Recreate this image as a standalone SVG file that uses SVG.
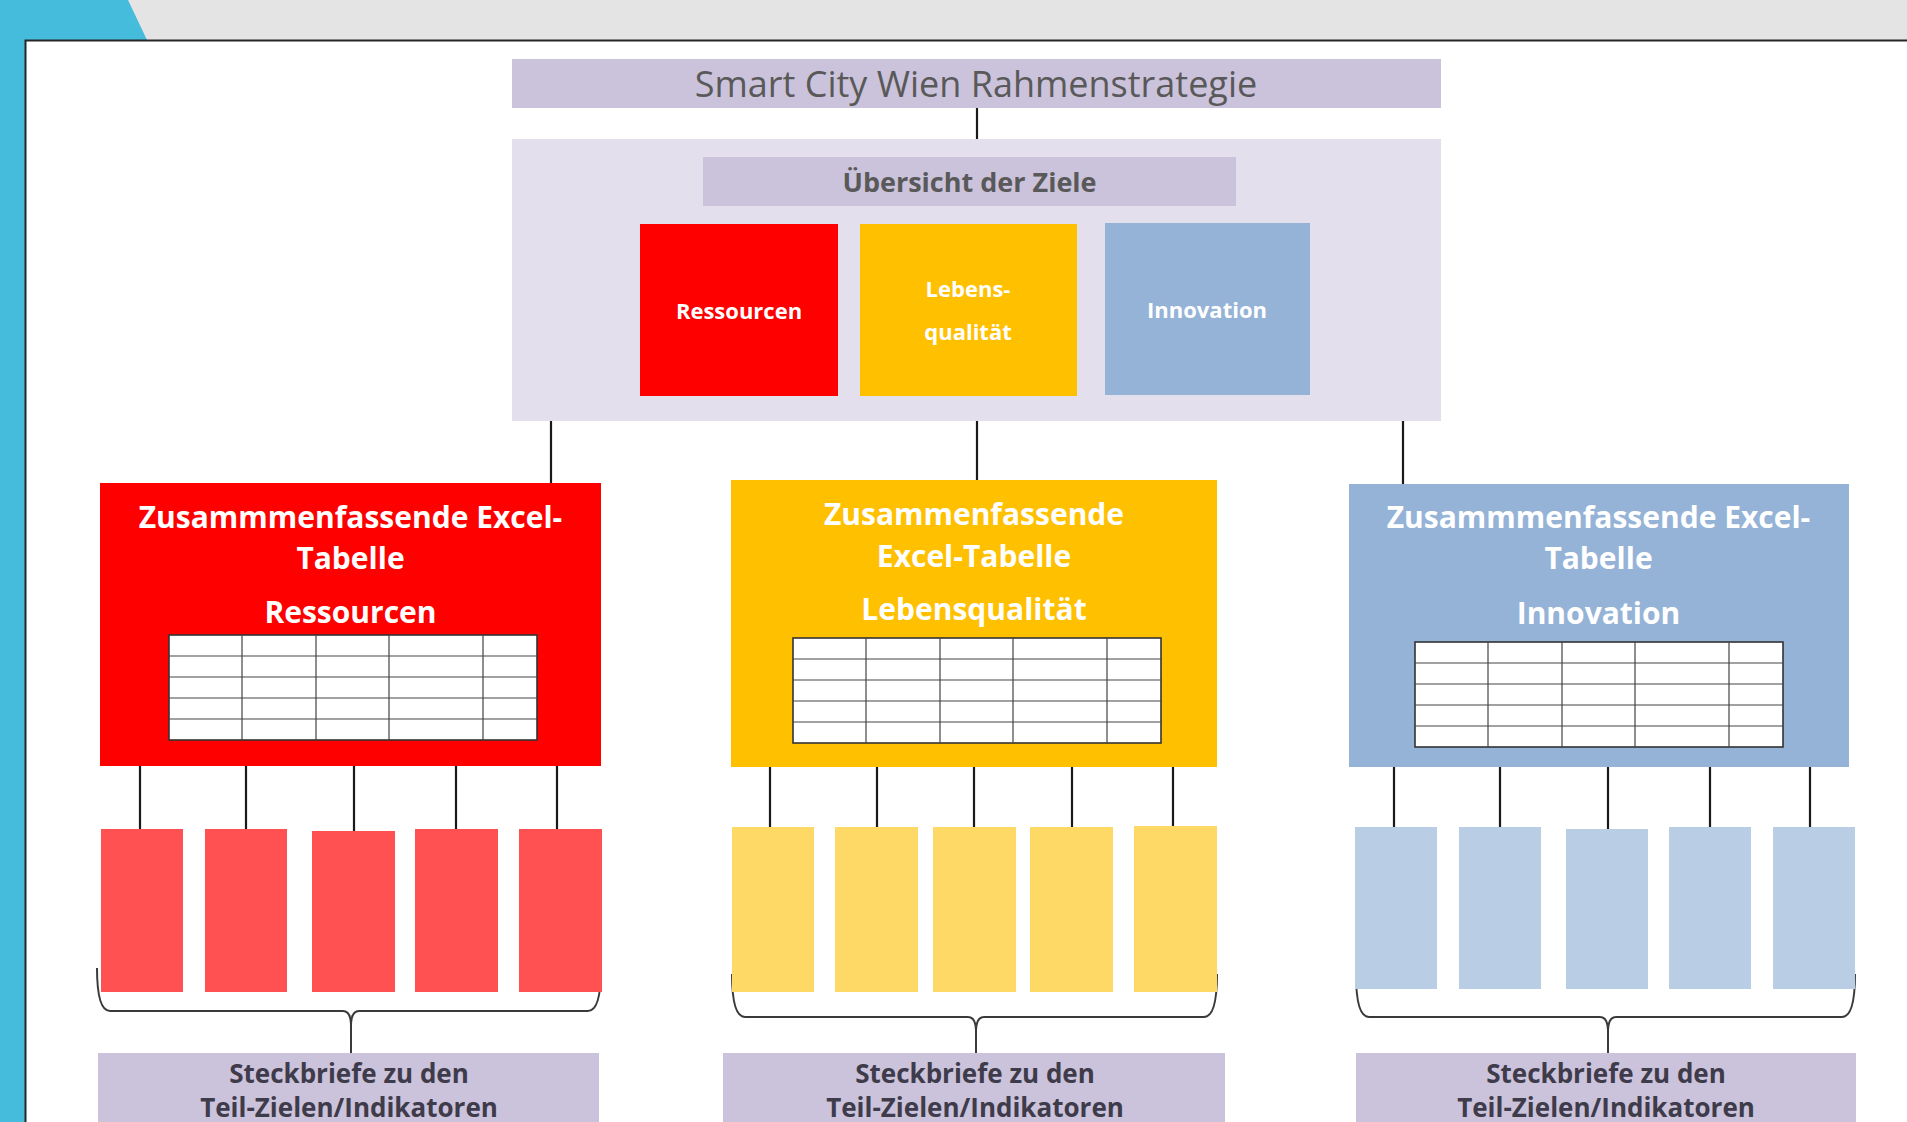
<svg xmlns="http://www.w3.org/2000/svg" xmlns:xlink="http://www.w3.org/1999/xlink" width="1907" height="1122" viewBox="0 0 1907 1122">
<style>
.lav{fill:#CBC2DB}
.lavl{fill:#E3DFEC}
.red{fill:#FF0000}
.yel{fill:#FFC000}
.blu{fill:#95B3D7}
.redl{fill:#FF5151}
.yell{fill:#FFD966}
.blul{fill:#B9CDE5}
.ln{stroke:#1a1a1a;stroke-width:2.2;fill:none}
.br{stroke:#3a3a3a;stroke-width:2;fill:none}
.t{font-family:"Open Sans","Liberation Sans",sans-serif;text-anchor:middle}
.wb{fill:#FFFFFF;font-weight:bold}
.hd{font-size:30px}
.sq{font-size:22px}
.bt{fill:#3E3B4A;font-weight:bold;font-size:26px}
</style>
<defs>
<g id="tbl">
<rect x="0" y="0" width="368" height="105" fill="#FFFFFF" stroke="#333" stroke-width="1.6"/>
<path d="M0,21H368M0,42H368M0,63H368M0,84H368M73,0V105M147,0V105M220,0V105M314,0V105" stroke="#444" stroke-width="1.2" fill="none"/>
</g>
</defs>

<!-- background -->
<rect x="0" y="0" width="1907" height="1122" fill="#FFFFFF"/>
<rect x="0" y="0" width="1907" height="40" fill="#E4E4E4"/>
<rect x="0" y="0" width="25" height="1122" fill="#45BCDC"/>
<polygon points="0,0 128,0 147,40 0,40" fill="#45BCDC"/>
<path d="M25.5,1122V40.5H1907" stroke="#262626" stroke-width="2" fill="none"/>

<!-- connectors -->
<g id="connectors">
<path class="ln" d="M977,108V139"/>
<path class="ln" d="M551,421V483M977,421V480M1403,421V484"/>
<path class="ln" d="M140,766V829M246,766V829M354,766V831M456,766V829M557,766V829"/>
<path class="ln" d="M770,767V827M877,767V827M974,767V827M1072,767V827M1173,767V826"/>
<path class="ln" d="M1394,767V827M1500,767V827M1608,767V829M1710,767V827M1810,767V827"/>
<path class="br" d="M97,968Q97,1011 110,1011H343Q351,1011 351,1026V1053M351,1026Q351,1011 359,1011H588Q601,1011 601,968"/>
<path class="br" d="M732,974Q732,1017 745,1017H968Q976,1017 976,1032V1053M976,1032Q976,1017 984,1017H1204Q1217,1017 1217,974"/>
<path class="br" d="M1356,974Q1356,1017 1369,1017H1600Q1608,1017 1608,1032V1053M1608,1032Q1608,1017 1616,1017H1842Q1855,1017 1855,974"/>
</g>

<g id="title">
<rect class="lav" x="512" y="59" width="929" height="49"/>
<text class="t" x="976" y="97" font-size="36" fill="#595959">Smart City Wien Rahmenstrategie</text>
</g>

<g id="overview">
<rect class="lavl" x="512" y="139" width="929" height="282"/>
</g>

<g id="uebersicht">
<rect class="lav" x="703" y="157" width="533" height="49"/>
<text class="t" x="969.5" y="192" font-size="27" font-weight="bold" fill="#595959">Übersicht der Ziele</text>
</g>

<g id="sq-ressourcen">
<rect class="red" x="640" y="224" width="198" height="172"/>
<text class="t wb sq" x="739" y="319">Ressourcen</text>
</g>
<g id="sq-lebensqualitaet">
<rect class="yel" x="860" y="224" width="217" height="172"/>
<text class="t wb sq" x="968" y="297">Lebens-</text>
<text class="t wb sq" x="968" y="340">qualität</text>
</g>
<g id="sq-innovation">
<rect class="blu" x="1105" y="223" width="205" height="172"/>
<text class="t wb sq" x="1207" y="318">Innovation</text>
</g>

<g id="excel-ressourcen">
<rect class="red" x="100" y="483" width="501" height="283"/>
<text class="t wb hd" x="350.5" y="528">Zusammmenfassende Excel-</text>
<text class="t wb hd" x="350.5" y="569">Tabelle</text>
<text class="t wb hd" x="350.5" y="623">Ressourcen</text>
<use xlink:href="#tbl" x="169" y="635"/>
</g>

<g id="excel-lebensqualitaet">
<rect class="yel" x="731" y="480" width="486" height="287"/>
<text class="t wb hd" x="974" y="525">Zusammenfassende</text>
<text class="t wb hd" x="974" y="567">Excel-Tabelle</text>
<text class="t wb hd" x="974" y="620">Lebensqualität</text>
<use xlink:href="#tbl" x="793" y="638"/>
</g>

<g id="excel-innovation">
<rect class="blu" x="1349" y="484" width="500" height="283"/>
<text class="t wb hd" x="1598.5" y="528">Zusammmenfassende Excel-</text>
<text class="t wb hd" x="1598.5" y="569">Tabelle</text>
<text class="t wb hd" x="1598.5" y="624">Innovation</text>
<use xlink:href="#tbl" x="1415" y="642"/>
</g>

<g id="teilziele-ressourcen">
<rect class="redl" x="101" y="829" width="82" height="163"/>
<rect class="redl" x="205" y="829" width="82" height="163"/>
<rect class="redl" x="312" y="831" width="83" height="161"/>
<rect class="redl" x="415" y="829" width="83" height="163"/>
<rect class="redl" x="519" y="829" width="83" height="163"/>
</g>
<g id="teilziele-lebensqualitaet">
<rect class="yell" x="732" y="827" width="82" height="165"/>
<rect class="yell" x="835" y="827" width="83" height="165"/>
<rect class="yell" x="933" y="827" width="83" height="165"/>
<rect class="yell" x="1030" y="827" width="83" height="165"/>
<rect class="yell" x="1134" y="826" width="83" height="166"/>
</g>
<g id="teilziele-innovation">
<rect class="blul" x="1355" y="827" width="82" height="162"/>
<rect class="blul" x="1459" y="827" width="82" height="162"/>
<rect class="blul" x="1566" y="829" width="82" height="160"/>
<rect class="blul" x="1669" y="827" width="82" height="162"/>
<rect class="blul" x="1773" y="827" width="82" height="162"/>
</g>

<g id="steckbriefe-ressourcen">
<rect class="lav" x="98" y="1053" width="501" height="80"/>
<text class="t bt" x="349" y="1083">Steckbriefe zu den</text>
<text class="t bt" x="349" y="1117">Teil-Zielen/Indikatoren</text>
</g>
<g id="steckbriefe-lebensqualitaet">
<rect class="lav" x="723" y="1053" width="502" height="80"/>
<text class="t bt" x="975" y="1083">Steckbriefe zu den</text>
<text class="t bt" x="975" y="1117">Teil-Zielen/Indikatoren</text>
</g>
<g id="steckbriefe-innovation">
<rect class="lav" x="1356" y="1053" width="500" height="80"/>
<text class="t bt" x="1606" y="1083">Steckbriefe zu den</text>
<text class="t bt" x="1606" y="1117">Teil-Zielen/Indikatoren</text>
</g>
</svg>
